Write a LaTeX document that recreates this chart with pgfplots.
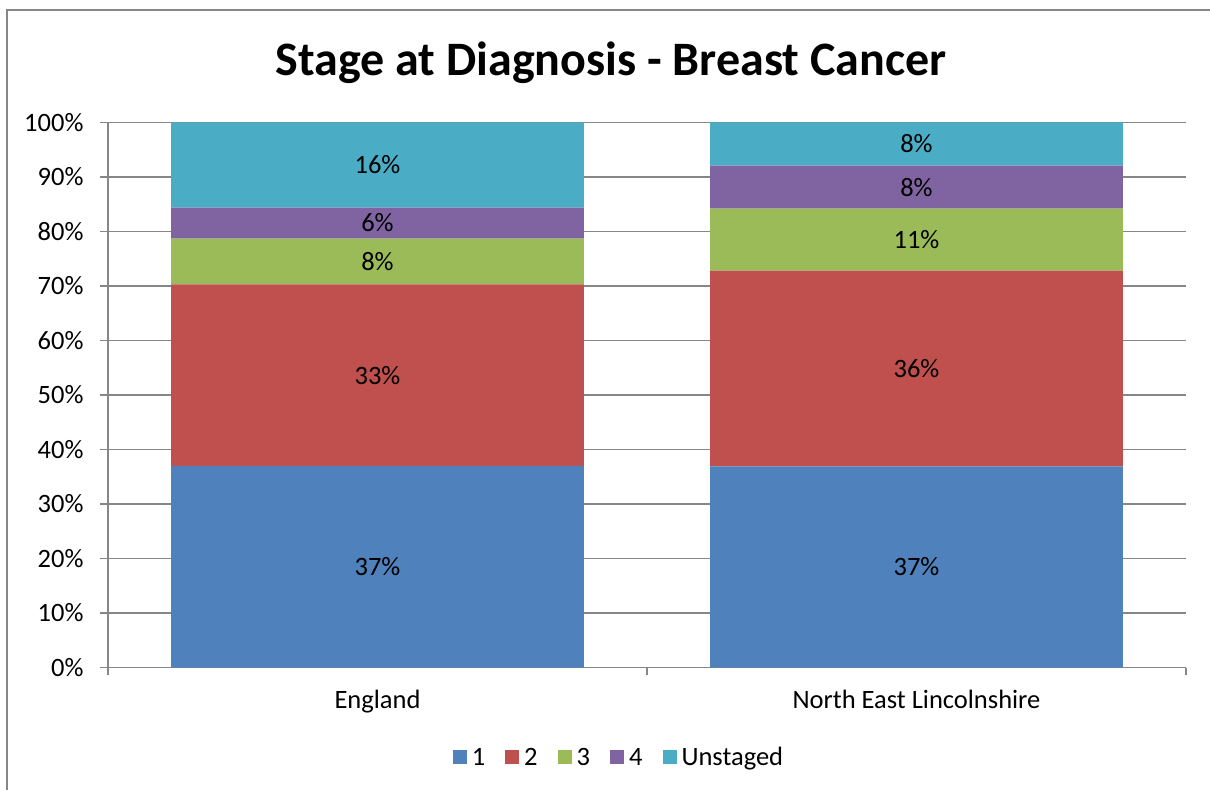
\documentclass[border=0pt]{standalone}
\usepackage{fontspec}
\setmainfont{Carlito}
\usepackage{pgfplots}
\usepackage{pgfplotstable}
\pgfplotsset{compat=1.18}
\definecolor{cA}{RGB}{79,129,189}
\definecolor{cB}{RGB}{192,80,77}
\definecolor{cC}{RGB}{155,187,89}
\definecolor{cD}{RGB}{128,100,162}
\definecolor{cE}{RGB}{75,172,198}
\definecolor{axgray}{RGB}{134,134,134}
\pgfplotstableread{
x s1 s2 s3 s4 u
0 37.0 33.3 8.4 5.7 15.6
1 36.9 35.9 11.4 7.9 7.9
}\stagedata
\newcommand{\lblfont}{\fontsize{26.5}{31}\selectfont}
\begin{document}
\begin{tikzpicture}
\useasboundingbox (0pt,0pt) rectangle (1210pt,790pt);
\draw[axgray, line width=1.6pt] (7pt,0pt) -- (7pt,780pt) -- (1210pt,780pt);
\node[font=\fontsize{48}{58}\selectfont\bfseries, anchor=base] at (611pt,714pt) {Stage at Diagnosis - Breast Cancer};
\begin{axis}[
  at={(108pt,122.5pt)}, anchor=south west,
  scale only axis, width=1078pt, height=545pt,
  ybar stacked, bar width=0.766,
  xmin=-0.5, xmax=1.5, ymin=0, ymax=100,
  axis x line*=bottom, axis y line*=left,
  axis line style={axgray, line width=1.6pt},
  xtick={0,1}, xticklabels={England, North East Lincolnshire},
  minor xtick={-0.5,0.5,1.5},
  ytick={0,10,...,100}, minor ytick={0,10,...,100},
  yticklabel={\pgfmathprintnumber{\tick}\%},
  /pgf/number format/assume math mode=true,
  tick align=outside, major tick length=0pt, minor tick length=8pt,
  tick style={axgray, line width=1.6pt},
  ymajorgrids, major grid style={axgray, line width=1.6pt},
  tick label style={font=\lblfont, text=black},
  yticklabel style={xshift=-21pt},
  xticklabel style={anchor=base, yshift=-40.5pt},
  point meta=explicit,
  nodes near coords={\pgfmathprintnumber[fixed,precision=0]{\pgfplotspointmeta}\%},
  every node near coord/.append style={anchor=center, font=\lblfont, text=black},
  legend image code/.code={\fill[#1] (0pt,-7pt) rectangle (14pt,7pt);},
  legend style={at={(0.474,-0.165)}, anchor=center, draw=none, fill=none, font=\lblfont,
    legend columns=5, /tikz/every even column/.append style={column sep=18pt},
    /tikz/every odd column/.append style={column sep=3pt}},
]
\addplot[fill=cA, draw=none] table[x=x, y=s1, meta=s1]{\stagedata};
\addplot[fill=cB, draw=none] table[x=x, y=s2, meta=s2]{\stagedata};
\addplot[fill=cC, draw=none] table[x=x, y=s3, meta=s3]{\stagedata};
\addplot[fill=cD, draw=none] table[x=x, y=s4, meta=s4]{\stagedata};
\addplot[fill=cE, draw=none] table[x=x, y=u, meta=u]{\stagedata};
\legend{1,2,3,4,Unstaged}
\end{axis}
\end{tikzpicture}
\end{document}
